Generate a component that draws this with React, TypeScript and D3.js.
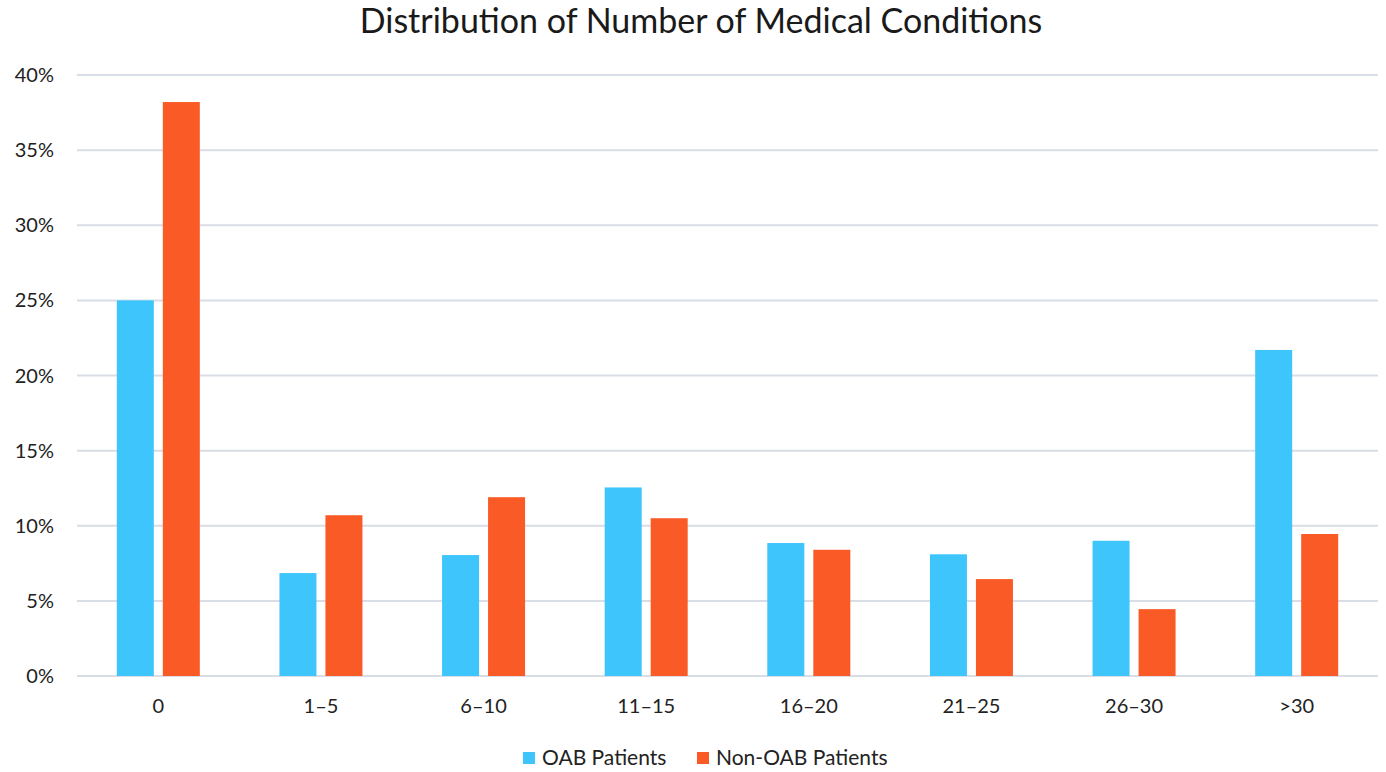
import React from "react";
import * as d3 from "d3";

const categories = ["0", "1–5", "6–10", "11–15", "16–20", "21–25", "26–30", ">30"];
const oabValues = [25.0, 6.85, 8.05, 12.55, 8.85, 8.1, 9.0, 21.7];
const nonOabValues = [38.2, 10.7, 11.9, 10.5, 8.4, 6.45, 4.45, 9.45];
const yTicks = [0, 5, 10, 15, 20, 25, 30, 35, 40];
const seriesNames = ["OAB Patients", "Non-OAB Patients"];
const seriesColors = ["#3ec6fc", "#fa5a26"];

const W = 1386;
const H = 772;
const left = 77;
const right = 1378;
const top = 75;
const bottom = 676;
const font = "Lato, 'Open Sans', sans-serif";

export default function App() {
  const x = d3.scaleBand<string>().domain(categories).range([left, right]);
  const y = d3.scaleLinear().domain([0, 40]).range([bottom, top]);
  const barW = 37;
  const off = 23;
  const series = [oabValues, nonOabValues];
  return (
    <svg width={W} height={H} style={{ position: "absolute", left: 0, top: 0 }} fontFamily={font}>
      <rect width={W} height={H} fill="#fff" />
      <text x={701} y={33} textAnchor="middle" fontSize={34} fill="#1a1a1a">
        Distribution of Number of Medical Conditions
      </text>
      {yTicks.map((t) => (
        <g key={t}>
          <line x1={left} x2={right} y1={y(t)} y2={y(t)} stroke="#d8dde6" strokeWidth={2} />
          <text x={54} y={y(t)} dy="0.35em" textAnchor="end" fontSize={20} fill="#222">
            {t}%
          </text>
        </g>
      ))}
      {series.map((vals, si) =>
        vals.map((v, i) => {
          const cx = (x(categories[i]) as number) + x.bandwidth() / 2 + (si === 0 ? -off : off);
          return (
            <rect
              key={si + "-" + i}
              x={cx - barW / 2}
              y={y(v)}
              width={barW}
              height={y(0) - y(v)}
              fill={seriesColors[si]}
            />
          );
        })
      )}
      {categories.map((c) => (
        <text
          key={c}
          x={(x(c) as number) + x.bandwidth() / 2}
          y={706}
          dy="0.35em"
          textAnchor="middle"
          fontSize={20}
          fill="#222"
        >
          {c}
        </text>
      ))}
      <g>
        <rect x={523} y={752} width={12} height={12} fill={seriesColors[0]} />
        <text x={542} y={758} dy="0.35em" fontSize={21} fill="#222">{seriesNames[0]}</text>
        <rect x={697} y={752} width={12} height={12} fill={seriesColors[1]} />
        <text x={716} y={758} dy="0.35em" fontSize={21} fill="#222">{seriesNames[1]}</text>
      </g>
    </svg>
  );
}
